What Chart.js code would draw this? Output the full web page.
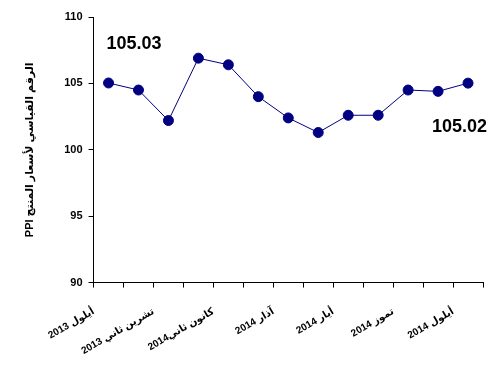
<!DOCTYPE html>
<html>
<head>
<meta charset="utf-8">
<script src="https://cdn.jsdelivr.net/npm/chart.js@4"></script>
<style>
  body { margin: 0; background: #fff; }
  #wrap { width: 500px; height: 375px; }
</style>
</head>
<body>
<div id="wrap"><canvas id="ppi"></canvas></div>
<script>
// months Sep 2013 .. Sep 2014, only every other one is labelled
const months = ['أيلول 2013', '', 'تشرين ثاني 2013', '', 'كانون ثاني2014', '', 'آذار 2014', '',
                'أيار 2014', '', 'تموز 2014', '', 'أيلول 2014'];
const ppiValues = [105.03, 104.5, 102.2, 106.9, 106.4, 104.0, 102.4, 101.3, 102.6, 102.6, 104.5, 104.4, 105.02];
const yTicks = [90, 95, 100, 105, 110];
const yTitle = 'PPI الرقم القياسي لأسعار المنتج';

const navy = '#000080';
const fontFam = "Arial, 'Liberation Sans', 'DejaVu Sans', sans-serif";

// first and last values written in big bold text
const endLabels = {
    id: 'endLabels',
    afterDatasetsDraw(chart) {
        const { ctx, scales: { x, y } } = chart;
        const last = ppiValues.length - 1;
        ctx.save();
        ctx.font = 'bold 18px ' + fontFam;
        ctx.fillStyle = '#000';
        ctx.textBaseline = 'middle';
        ctx.textAlign = 'left';
        ctx.fillText(ppiValues[0].toFixed(2), x.getPixelForValue(0) - 2, y.getPixelForValue(108.0));
        ctx.textAlign = 'right';
        ctx.fillText(ppiValues[last].toFixed(2), x.getPixelForValue(last) + 19, y.getPixelForValue(101.7));
        ctx.restore();
    }
};

new Chart(document.getElementById('ppi'), {
    type: 'line',
    data: {
        labels: months,
        datasets: [{
            data: ppiValues,
            borderColor: navy,
            borderWidth: 1,
            backgroundColor: navy,
            pointBackgroundColor: navy,
            pointBorderColor: navy,
            pointRadius: 5,
            tension: 0
        }]
    },
    options: {
        responsive: true,
        maintainAspectRatio: false,
        animation: false,
        layout: { padding: { top: 17, right: 17, bottom: 0, left: 23 } },
        scales: {
            x: {
                offset: true,
                border: { color: '#000', width: 1 },
                grid: { drawOnChartArea: false, drawTicks: true, tickLength: 5, color: '#000', offset: true },
                ticks: {
                    autoSkip: false,
                    minRotation: 30,
                    maxRotation: 30,
                    labelOffset: -15,
                    padding: 18,
                    color: '#000',
                    font: { family: fontFam, size: 10, weight: 'bold' }
                }
            },
            y: {
                min: 90,
                max: 110,
                afterBuildTicks: axis => { axis.ticks = yTicks.map(v => ({ value: v })); },
                border: { color: '#000', width: 1 },
                grid: { drawOnChartArea: false, drawTicks: true, tickLength: 5, color: '#000' },
                ticks: {
                    color: '#000',
                    padding: 6,
                    font: { family: fontFam, size: 11, weight: 'bold' }
                },
                title: {
                    display: true,
                    text: yTitle,
                    color: '#000',
                    padding: { top: 0, bottom: 22 },
                    font: { family: fontFam, size: 11, weight: 'bold' }
                }
            }
        },
        plugins: {
            legend: { display: false },
            tooltip: { enabled: false }
        }
    },
    plugins: [endLabels]
});
</script>
</body>
</html>
